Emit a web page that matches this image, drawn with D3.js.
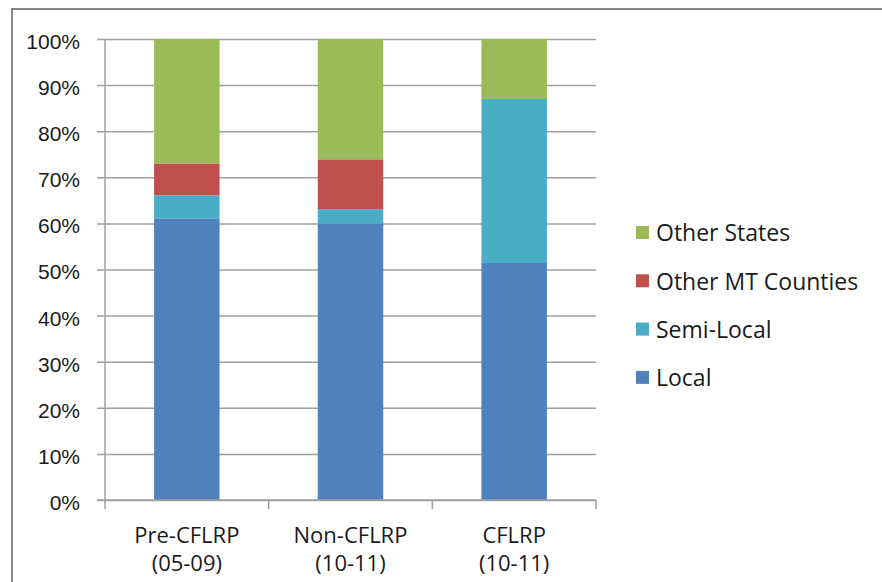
<!DOCTYPE html>
<html>
<head>
<meta charset="utf-8">
<script src="https://cdn.jsdelivr.net/npm/d3@7/dist/d3.min.js"></script>
<style>
  html, body { margin: 0; padding: 0; background: #fff; }
  svg { display: block; font-family: "Open Sans", "Noto Sans", sans-serif; }
</style>
</head>
<body>
<svg id="chart" width="882" height="582"></svg>
<script>
// Source of shares, stacked bottom to top
const categories = ["Pre-CFLRP\n(05-09)", "Non-CFLRP\n(10-11)", "CFLRP\n(10-11)"];
const seriesNames = ["Local", "Semi-Local", "Other MT Counties", "Other States"];
const local = [0.611, 0.600, 0.514];
const semiLocal = [0.050, 0.031, 0.356];
const otherMT = [0.069, 0.108, 0.000];
const otherStates = [0.270, 0.261, 0.130];
const yTicks = [0, 0.1, 0.2, 0.3, 0.4, 0.5, 0.6, 0.7, 0.8, 0.9, 1.0];
const colors = ["#4F81BD", "#4BACC6", "#C0504D", "#9BBB59"];

const seriesValues = [local, semiLocal, otherMT, otherStates];
const rows = categories.map((c, i) => {
  const r = { category: c };
  seriesNames.forEach((s, k) => { r[s] = seriesValues[k][i]; });
  return r;
});
const stacked = d3.stack().keys(seriesNames)(rows);

const svg = d3.select("#chart");

// outer chart frame
svg.append("rect")
  .attr("x", 12).attr("y", 9)
  .attr("width", 900).attr("height", 600)
  .attr("fill", "none").attr("stroke", "#868686").attr("stroke-width", 2);

const plot = { left: 105, right: 596, top: 39, bottom: 500 };

const x = d3.scaleBand()
  .domain(categories)
  .range([plot.left, plot.right])
  .paddingInner(0.6).paddingOuter(0.3);

const y = d3.scaleLinear().domain([0, 1]).range([plot.bottom, plot.top]);

// horizontal gridlines with left ticks
const yAxis = d3.axisLeft(y)
  .tickValues(yTicks)
  .tickFormat(d3.format(".0%"))
  .tickSize(-(plot.right - plot.left))
  .tickPadding(25);

const gy = svg.append("g")
  .attr("transform", `translate(${plot.left},0)`)
  .call(yAxis);
gy.select(".domain").remove();
gy.selectAll(".tick line")
  .attr("x1", -8)
  .attr("stroke", "#a0a0a0").attr("stroke-width", 1.5);
gy.selectAll(".tick text")
  .attr("fill", "#1a1a1a")
  .attr("font-size", 21)
  .attr("dy", "0.45em");

// y axis line
svg.append("line")
  .attr("x1", plot.left).attr("x2", plot.left)
  .attr("y1", plot.top).attr("y2", plot.bottom)
  .attr("stroke", "#a0a0a0").attr("stroke-width", 1.5);

// bars
svg.append("g").selectAll("g")
  .data(stacked)
  .join("g")
  .attr("fill", (d, i) => colors[i])
  .selectAll("rect")
  .data(d => d)
  .join("rect")
  .attr("x", d => x(d.data.category))
  .attr("width", x.bandwidth())
  .attr("y", d => y(d[1]))
  .attr("height", d => y(d[0]) - y(d[1]));

// x axis with category separators
const bounds = d3.range(categories.length + 1).map(i => plot.left + i * (plot.right - plot.left) / categories.length);
svg.append("line")
  .attr("x1", plot.left - 8).attr("x2", plot.right)
  .attr("y1", plot.bottom).attr("y2", plot.bottom)
  .attr("stroke", "#a0a0a0").attr("stroke-width", 1.5);
svg.append("g").selectAll("line")
  .data(bounds)
  .join("line")
  .attr("x1", d => d).attr("x2", d => d)
  .attr("y1", plot.bottom).attr("y2", plot.bottom + 9)
  .attr("stroke", "#a0a0a0").attr("stroke-width", 1.5);

// category labels (two lines each)
const xl = svg.append("g").selectAll("text")
  .data(categories)
  .join("text")
  .attr("text-anchor", "middle")
  .attr("fill", "#1a1a1a")
  .attr("font-size", 22)
  .attr("x", d => x(d) + x.bandwidth() / 2)
  .attr("y", 543);
xl.selectAll("tspan")
  .data(d => d.split("\n"))
  .join("tspan")
  .attr("x", function () { return d3.select(this.parentNode).attr("x"); })
  .attr("dy", (d, i) => i === 0 ? 0 : 28)
  .text(d => d);

// legend, top entry is the top of the stack
const legendOrder = seriesNames.map((s, i) => ({ name: s, color: colors[i] })).reverse();
const lg = svg.append("g").selectAll("g")
  .data(legendOrder)
  .join("g")
  .attr("transform", (d, i) => `translate(636,${233 + i * 48.3})`);
lg.append("rect")
  .attr("x", 0).attr("y", -7)
  .attr("width", 13).attr("height", 13)
  .attr("fill", d => d.color);
lg.append("text")
  .attr("x", 20).attr("y", 0)
  .attr("dy", "0.36em")
  .attr("font-size", 23)
  .attr("fill", "#1a1a1a")
  .text(d => d.name);
</script>
</body>
</html>
